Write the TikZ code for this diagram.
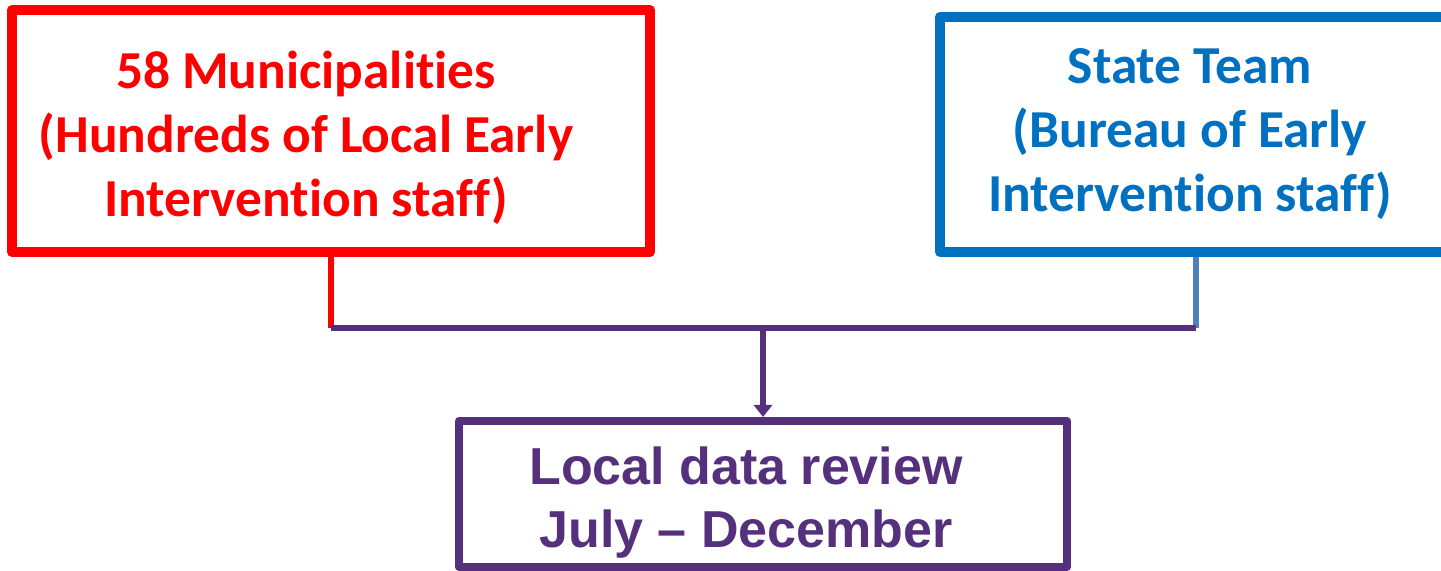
\documentclass[tikz,border=0pt]{standalone}
\usepackage{fontspec}
\setmainfont{Carlito}[Ligatures=NoCommon]
\newfontfamily\reviewfont{Liberation Sans}
\usetikzlibrary{arrows.meta,positioning}

\definecolor{muniRed}{HTML}{FF0000}
\definecolor{stateBlue}{HTML}{0070C0}
\definecolor{linkBlue}{HTML}{4F81BD}
\definecolor{reviewPurple}{HTML}{55307D}

\begin{document}
\begin{tikzpicture}[x=0.5pt,y=-0.5pt,
    box/.style={draw,rectangle,inner sep=0pt,line join=round},
    boxtext/.style={align=center,inner sep=0pt,font=\bfseries\fontsize{26.7}{32}\selectfont},
    link/.style={line width=3pt}]
  \useasboundingbox (0,0) rectangle (1441,571);

  % the two teams
  \node[box,draw=muniRed,line width=5pt,minimum width=319pt,minimum height=121pt] (muni) at (331,131) {};
  \node[box,draw=stateBlue,line width=5pt,minimum width=256pt,minimum height=117.5pt] (state) at (1196,134.5) {};
  \node[boxtext,text=muniRed] (muniText) at (306,138) {58 Municipalities\\(Hundreds of Local Early\\Intervention staff)};
  \node[boxtext,text=stateBlue] (stateText) at (1190,134) {State Team\\(Bureau of Early\\Intervention staff)};

  % where the review happens
  \node[box,draw=reviewPurple,line width=4pt,minimum width=304pt,minimum height=73pt] (review) at (763,494) {};
  \node[boxtext,text=reviewPurple,font=\reviewfont\bfseries\fontsize{26}{31.5}\selectfont] (reviewText) at (746,503) {Local data review\\July – December};

  \coordinate (bus) at (763,328);

  \draw[link,draw=muniRed] (muni.south) -- (muni.south |- bus);
  \draw[link,draw=linkBlue] (state.south) -- (state.south |- bus);
  \draw[link,draw=reviewPurple] (muni.south |- bus) -- (state.south |- bus);
  \draw[link,draw=reviewPurple,-{Triangle[width=9pt,length=6pt]}] (bus) -- (review.north);
\end{tikzpicture}
\end{document}
